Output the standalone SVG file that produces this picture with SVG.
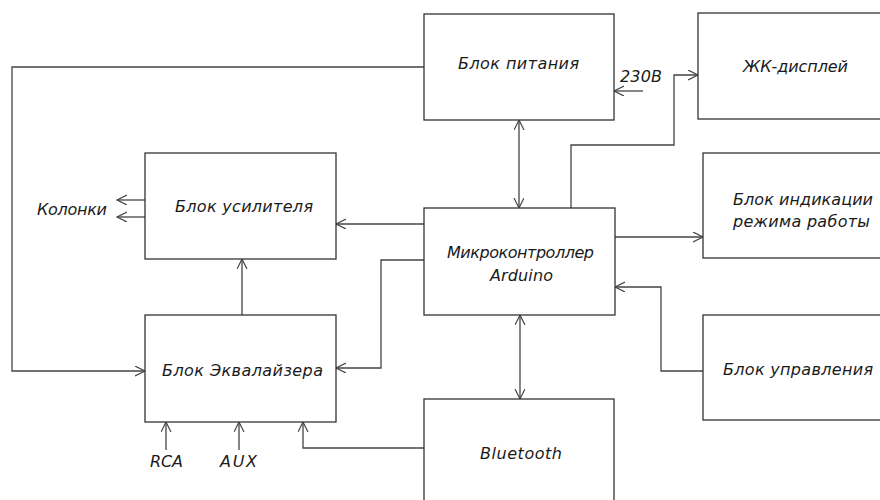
<svg xmlns="http://www.w3.org/2000/svg" width="880" height="500" viewBox="0 0 880 500">
<style>
  .box { fill: #ffffff; stroke: #333333; stroke-width: 1.3; }
  .ln { fill: none; stroke: #444444; stroke-width: 1.3; }
  .t { font-family: "DejaVu Sans", "Liberation Sans", sans-serif; font-style: italic; font-size: 16px; fill: #1a1a1a; }
</style>
<defs>
  <marker id="ah" viewBox="0 0 12 12" refX="10" refY="5" markerWidth="12" markerHeight="12" markerUnits="userSpaceOnUse" orient="auto-start-reverse">
    <path d="M0,0 L10,5 L0,10" fill="none" stroke="#444444" stroke-width="1.2"/>
  </marker>
</defs>
<rect width="880" height="500" fill="#ffffff"/>
<g id="connectors">
  <path class="ln" d="M424,67 H12 V371 H145" marker-end="url(#ah)"/>
  <path class="ln" d="M145,200 H117" marker-end="url(#ah)"/>
  <path class="ln" d="M145,217 H117" marker-end="url(#ah)"/>
  <path class="ln" d="M424,224 H336" marker-end="url(#ah)"/>
  <path class="ln" d="M242,315 V259" marker-end="url(#ah)"/>
  <path class="ln" d="M424,260 H381 V368 H336" marker-end="url(#ah)"/>
  <path class="ln" d="M424,448 H303 V422" marker-end="url(#ah)"/>
  <path class="ln" d="M166,450 V422" marker-end="url(#ah)"/>
  <path class="ln" d="M239,450 V422" marker-end="url(#ah)"/>
  <path class="ln" d="M519,120 V208" marker-start="url(#ah)" marker-end="url(#ah)"/>
  <path class="ln" d="M520,315 V399" marker-start="url(#ah)" marker-end="url(#ah)"/>
  <path class="ln" d="M643,91 H614" marker-end="url(#ah)"/>
  <path class="ln" d="M571,208 V145 H674 V75 H698" marker-end="url(#ah)"/>
  <path class="ln" d="M615,237 H703" marker-end="url(#ah)"/>
  <path class="ln" d="M703,371 H661 V287 H615" marker-end="url(#ah)"/>
</g>
<g id="power">
  <rect class="box" x="424" y="14" width="190" height="106"/>
  <text class="t" x="458" y="69" textLength="121" lengthAdjust="spacing">Блок питания</text>
</g>
<g id="lcd">
  <rect class="box" x="698" y="13" width="200" height="106"/>
  <text class="t" x="743" y="72" textLength="105" lengthAdjust="spacing">ЖК-дисплей</text>
</g>
<g id="indication">
  <rect class="box" x="703" y="153" width="200" height="105"/>
  <text class="t" x="733" y="205" textLength="140" lengthAdjust="spacing">Блок индикации</text>
  <text class="t" x="733" y="227" textLength="137" lengthAdjust="spacing">режима работы</text>
</g>
<g id="amplifier">
  <rect class="box" x="145" y="153" width="191" height="106"/>
  <text class="t" x="175" y="212" textLength="138" lengthAdjust="spacing">Блок усилителя</text>
</g>
<g id="mcu">
  <rect class="box" x="424" y="208" width="191" height="107"/>
  <text class="t" x="447" y="258" textLength="147" lengthAdjust="spacing">Микроконтроллер</text>
  <text class="t" x="490" y="281" textLength="63" lengthAdjust="spacing">Arduino</text>
</g>
<g id="equalizer">
  <rect class="box" x="145" y="315" width="191" height="107"/>
  <text class="t" x="162" y="376" textLength="161" lengthAdjust="spacing">Блок Эквалайзера</text>
</g>
<g id="control">
  <rect class="box" x="703" y="315" width="200" height="105"/>
  <text class="t" x="723" y="375" textLength="150" lengthAdjust="spacing">Блок управления</text>
</g>
<g id="bluetooth">
  <rect class="box" x="424" y="399" width="190" height="120"/>
  <text class="t" x="480" y="459" textLength="82" lengthAdjust="spacing">Bluetooth</text>
</g>
<g id="labels">
  <text class="t" x="37" y="215" textLength="70" lengthAdjust="spacing">Колонки</text>
  <text class="t" x="620" y="82" textLength="42" lengthAdjust="spacing">230В</text>
  <text class="t" x="150" y="467" textLength="33" lengthAdjust="spacing">RCA</text>
  <text class="t" x="220" y="467" textLength="37" lengthAdjust="spacing">AUX</text>
</g>
</svg>
